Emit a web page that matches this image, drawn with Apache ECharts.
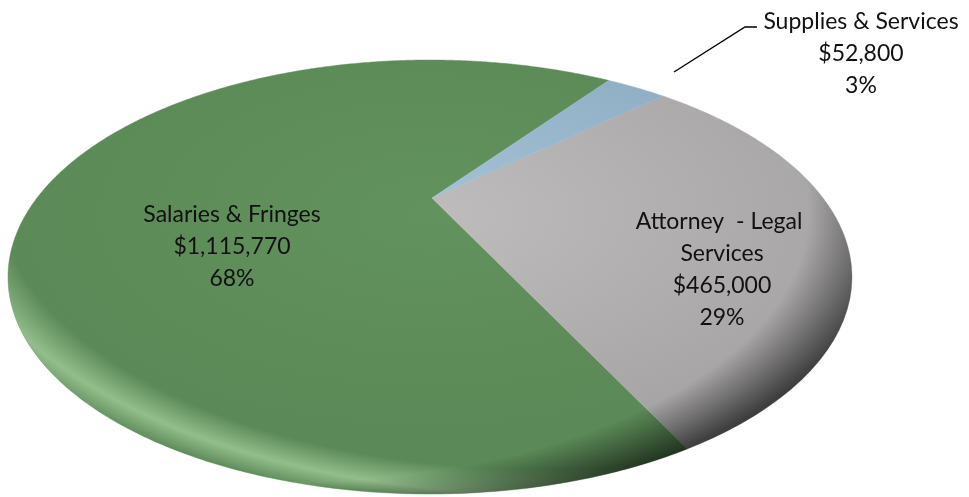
<!DOCTYPE html>
<html>
<head>
<meta charset="utf-8">
<title>Budget breakdown</title>
<script src="https://cdn.jsdelivr.net/npm/echarts@6/dist/echarts.min.js"></script>
<style>
  html, body { margin: 0; padding: 0; background: #ffffff; }
  #chart { width: 969px; height: 497px; }
</style>
</head>
<body>
<div id="chart"></div>
<script>
// ---- data ----
const categories = ['Salaries & Fringes', 'Attorney  - Legal Services', 'Supplies & Services'];
const amounts = [1115770, 465000, 52800];

// ---- layout & style ----
const disc = { cx: 430, cy: 277, rx: 422, ry: 217 };   // outline of the tilted disc
const apex = [432, 198];                                 // where the slices meet
const tilt = 0.52;                                       // foreshortening of slice directions
const startAngle = -52;                                  // degrees, screen space; slices run counter-clockwise
const sliceFills = [
  { inner: '#62925d', outer: '#5b8957' },
  { inner: '#bebcbc', outer: '#a6a4a4' },
  { inner: '#a6c2d6', outer: '#89a9c0' }
];
const labelLayout = [
  { x: 232, y: 247, width: 280 },
  { x: 722, y: 270, width: 190 },
  { x: 861, y: 54, width: 280, leader: [[674, 72], [745, 27], [757, 27]] }
];
const labelFont = '23px Lato, "Open Sans", sans-serif';

// ---- helpers ----
const total = amounts.reduce((a, b) => a + b, 0);
const squash = disc.ry / disc.rx;
const R = disc.rx;
const A = [apex[0] - disc.cx, (apex[1] - disc.cy) / squash];   // apex in un-squashed disc space

// whole-number shares that still add up to 100 (largest remainder)
function roundedShares(vals) {
  const raw = vals.map(v => v / total * 100);
  const out = raw.map(Math.floor);
  const missing = 100 - out.reduce((a, b) => a + b, 0);
  raw.map((r, i) => [r - out[i], i])
     .sort((a, b) => b[0] - a[0])
     .slice(0, missing)
     .forEach(([, i]) => { out[i] += 1; });
  return out;
}
const shares = roundedShares(amounts);

// point on the rim reached from the apex along slice angle (degrees)
function rimPoint(deg) {
  const t = deg * Math.PI / 180;
  const dx = Math.cos(t), dy = tilt * Math.sin(t) / squash;
  const a = dx * dx + dy * dy;
  const b = A[0] * dx + A[1] * dy;
  const c = A[0] * A[0] + A[1] * A[1] - R * R;
  const k = (-b + Math.sqrt(b * b - a * c)) / a;
  return [A[0] + k * dx, A[1] + k * dy];
}

function money(v) {
  return '$' + v.toString().replace(/\B(?=(\d{3})+(?!\d))/g, ',');
}

// cumulative start of every slice (angles decrease: counter-clockwise on screen)
const sliceStart = [];
amounts.reduce((acc, v, i) => { sliceStart[i] = acc; return acc + v; }, 0);

const chart = echarts.init(document.getElementById('chart'), null, { renderer: 'canvas' });

chart.setOption({
  animation: false,
  backgroundColor: '#ffffff',
  series: [
    {
      // slices of the disc
      type: 'custom',
      coordinateSystem: 'none',
      silent: true,
      z: 1,
      data: amounts.map((v, i) => [i, v]),
      renderItem(params, api) {
        const i = params.dataIndex;
        const value = api.value(1);
        const a0 = startAngle - sliceStart[i] / total * 360;
        const a1 = a0 - value / total * 360;
        const steps = Math.max(2, Math.ceil(Math.abs(a1 - a0) / 0.5));
        const pts = [A.slice()];
        for (let k = 0; k <= steps; k++) pts.push(rimPoint(a0 + (a1 - a0) * k / steps));
        const fill = {
          type: 'radial', x: 0, y: -120, r: R * 1.05, global: true,
          colorStops: [
            { offset: 0, color: sliceFills[i].inner },
            { offset: 1, color: sliceFills[i].outer }
          ]
        };
        return {
          type: 'group', x: disc.cx, y: disc.cy, scaleY: squash,
          children: [{
            type: 'polygon',
            shape: { points: pts },
            style: { fill: fill, stroke: fill, lineWidth: 0.6, strokeNoScale: true }
          }]
        };
      }
    },
    {
      // soft bevel: light band along the lower left, shadow on the lower right rim
      type: 'custom',
      coordinateSystem: 'none',
      silent: true,
      z: 2,
      data: [[0]],
      renderItem() {
        return {
          type: 'group', x: disc.cx, y: disc.cy, scaleY: squash,
          children: [
            {
              type: 'circle', shape: { cx: 0, cy: 0, r: R },
              style: {
                fill: {
                  type: 'radial', x: 0.275 * R, y: -0.4175 * R, r: 1.5 * R, global: true,
                  colorStops: [
                    { offset: 0, color: 'rgba(215,255,205,0)' },
                    { offset: 0.87, color: 'rgba(215,255,205,0)' },
                    { offset: 0.945, color: 'rgba(215,255,205,0.45)' },
                    { offset: 0.99, color: 'rgba(215,255,205,0.1)' },
                    { offset: 1, color: 'rgba(215,255,205,0)' }
                  ]
                }
              }
            },
            {
              type: 'circle', shape: { cx: 0, cy: 0, r: R },
              style: {
                fill: {
                  type: 'radial', x: -0.35 * R, y: -0.3 * R, r: 1.45 * R, global: true,
                  colorStops: [
                    { offset: 0, color: 'rgba(0,0,0,0)' },
                    { offset: 0.86, color: 'rgba(0,0,0,0)' },
                    { offset: 0.93, color: 'rgba(0,0,0,0.3)' },
                    { offset: 1, color: 'rgba(0,0,0,0.62)' }
                  ]
                }
              }
            }
          ]
        };
      }
    },
    {
      // data labels
      type: 'custom',
      coordinateSystem: 'none',
      silent: true,
      z: 3,
      data: amounts.map((v, i) => [i, v]),
      renderItem(params, api) {
        const i = params.dataIndex;
        const L = labelLayout[i];
        const children = [{
          type: 'text',
          style: {
            text: categories[i] + '\n' + money(api.value(1)) + '\n' + shares[i] + '%',
            x: L.x, y: L.y, width: L.width, overflow: 'break',
            align: 'center', verticalAlign: 'middle',
            font: labelFont, lineHeight: 32, fill: '#111111'
          }
        }];
        if (L.leader) {
          children.push({
            type: 'polyline',
            shape: { points: L.leader },
            style: { stroke: '#000000', lineWidth: 1.4, fill: null }
          });
        }
        return { type: 'group', children };
      }
    }
  ]
});
</script>
</body>
</html>
